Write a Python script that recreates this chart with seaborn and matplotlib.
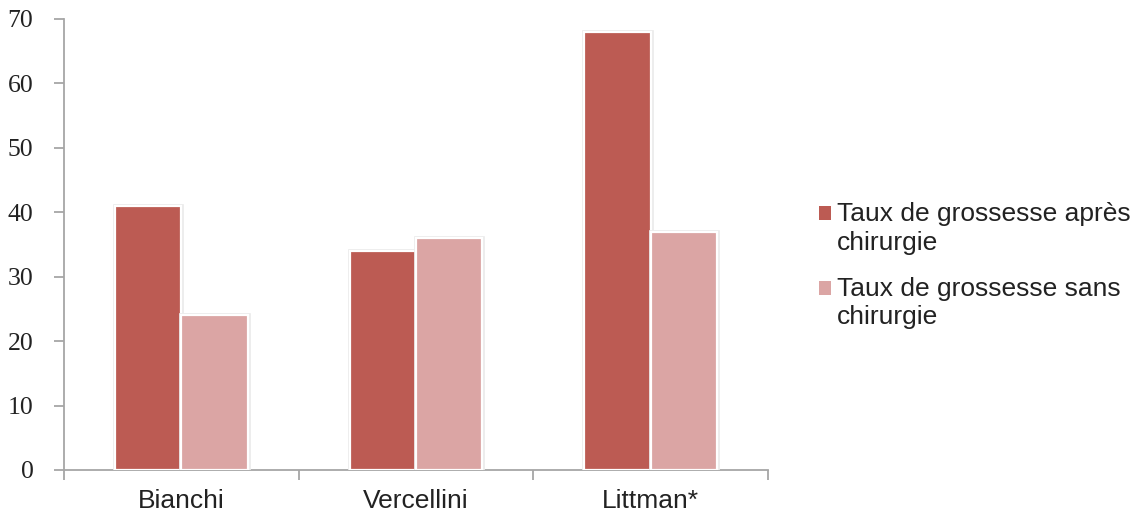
import matplotlib
matplotlib.use("Agg")
import matplotlib.pyplot as plt
import matplotlib.patheffects as pe
import seaborn as sns
import pandas as pd
from matplotlib.patches import Patch

# Pregnancy rates (%) by study
studies = ["Bianchi", "Vercellini", "Littman*"]
with_surgery = [41, 34, 68]
without_surgery = [24, 36, 37]
series_names = ["Taux de grossesse après\nchirurgie", "Taux de grossesse sans\nchirurgie"]
y_ticks = [0, 10, 20, 30, 40, 50, 60, 70]

colors = ["#BC5B53", "#DBA5A4"]
axis_gray = "#A6A6A6"

df = pd.DataFrame({
    "study": studies * 2,
    "rate": with_surgery + without_surgery,
    "series": [series_names[0]] * len(studies) + [series_names[1]] * len(studies),
})

sns.set_theme(style="white")
plt.rcParams["font.family"] = ["Liberation Sans", "DejaVu Sans"]

fig = plt.figure(figsize=(11.41, 5.15), dpi=100)
ax = fig.add_axes([0.0561, 0.0874, 0.617, 0.876])

sns.barplot(data=df, x="study", y="rate", hue="series", order=studies,
            hue_order=series_names, palette=colors, width=0.565,
            edgecolor="white", linewidth=1.6, saturation=1, ax=ax, legend=False)

# Soft gray halo around each white-edged bar
for bar in ax.patches:
    bar.set_path_effects([pe.Stroke(linewidth=3.4, foreground="#EBEBEB"), pe.Normal()])

ax.set_ylim(0, 70)
ax.set_xlim(-0.5, len(studies) - 0.5)
ax.set_yticks(y_ticks)
ax.set_yticklabels([str(t) for t in y_ticks], family=["Liberation Serif", "DejaVu Serif"],
                   fontsize=18.5, color="#222222")
ax.set_xticks(range(len(studies)))
ax.set_xticklabels(studies, fontsize=19, color="#222222")
ax.set_xlabel("")
ax.set_ylabel("")

# Axis frame: only left and bottom spines, gray
for side in ["top", "right"]:
    ax.spines[side].set_visible(False)
for side in ["left", "bottom"]:
    ax.spines[side].set_color(axis_gray)
    ax.spines[side].set_linewidth(1.3)
    ax.spines[side].set_zorder(0.5)

ax.tick_params(axis="y", which="major", left=True, direction="out", length=7, width=1.3,
               color=axis_gray, pad=15)
ax.tick_params(axis="x", which="major", bottom=False, length=0, pad=14)
# Category-boundary ticks on the x axis
ax.set_xticks([-0.5, 0.5, 1.5, 2.5], minor=True)
ax.tick_params(axis="x", which="minor", bottom=True, direction="out", length=7, width=1.3,
               color=axis_gray)

handles = [Patch(facecolor=c, edgecolor="none") for c in colors]
leg = fig.legend(handles, series_names, loc="center left", bbox_to_anchor=(0.7175, 0.484),
                 frameon=False, fontsize=19, handlelength=0.45, handleheight=0.45,
                 handletextpad=0.25, labelspacing=0.85, labelcolor="#222222",
                 borderpad=0, borderaxespad=0)
for t in leg.get_texts():
    t.set_linespacing(1.23)
# Put each legend swatch beside the first line of its label
for h in leg.legend_handles:
    h.set_y(h.get_y() + 11)

fig.savefig("out.png", dpi=100, facecolor="white")
